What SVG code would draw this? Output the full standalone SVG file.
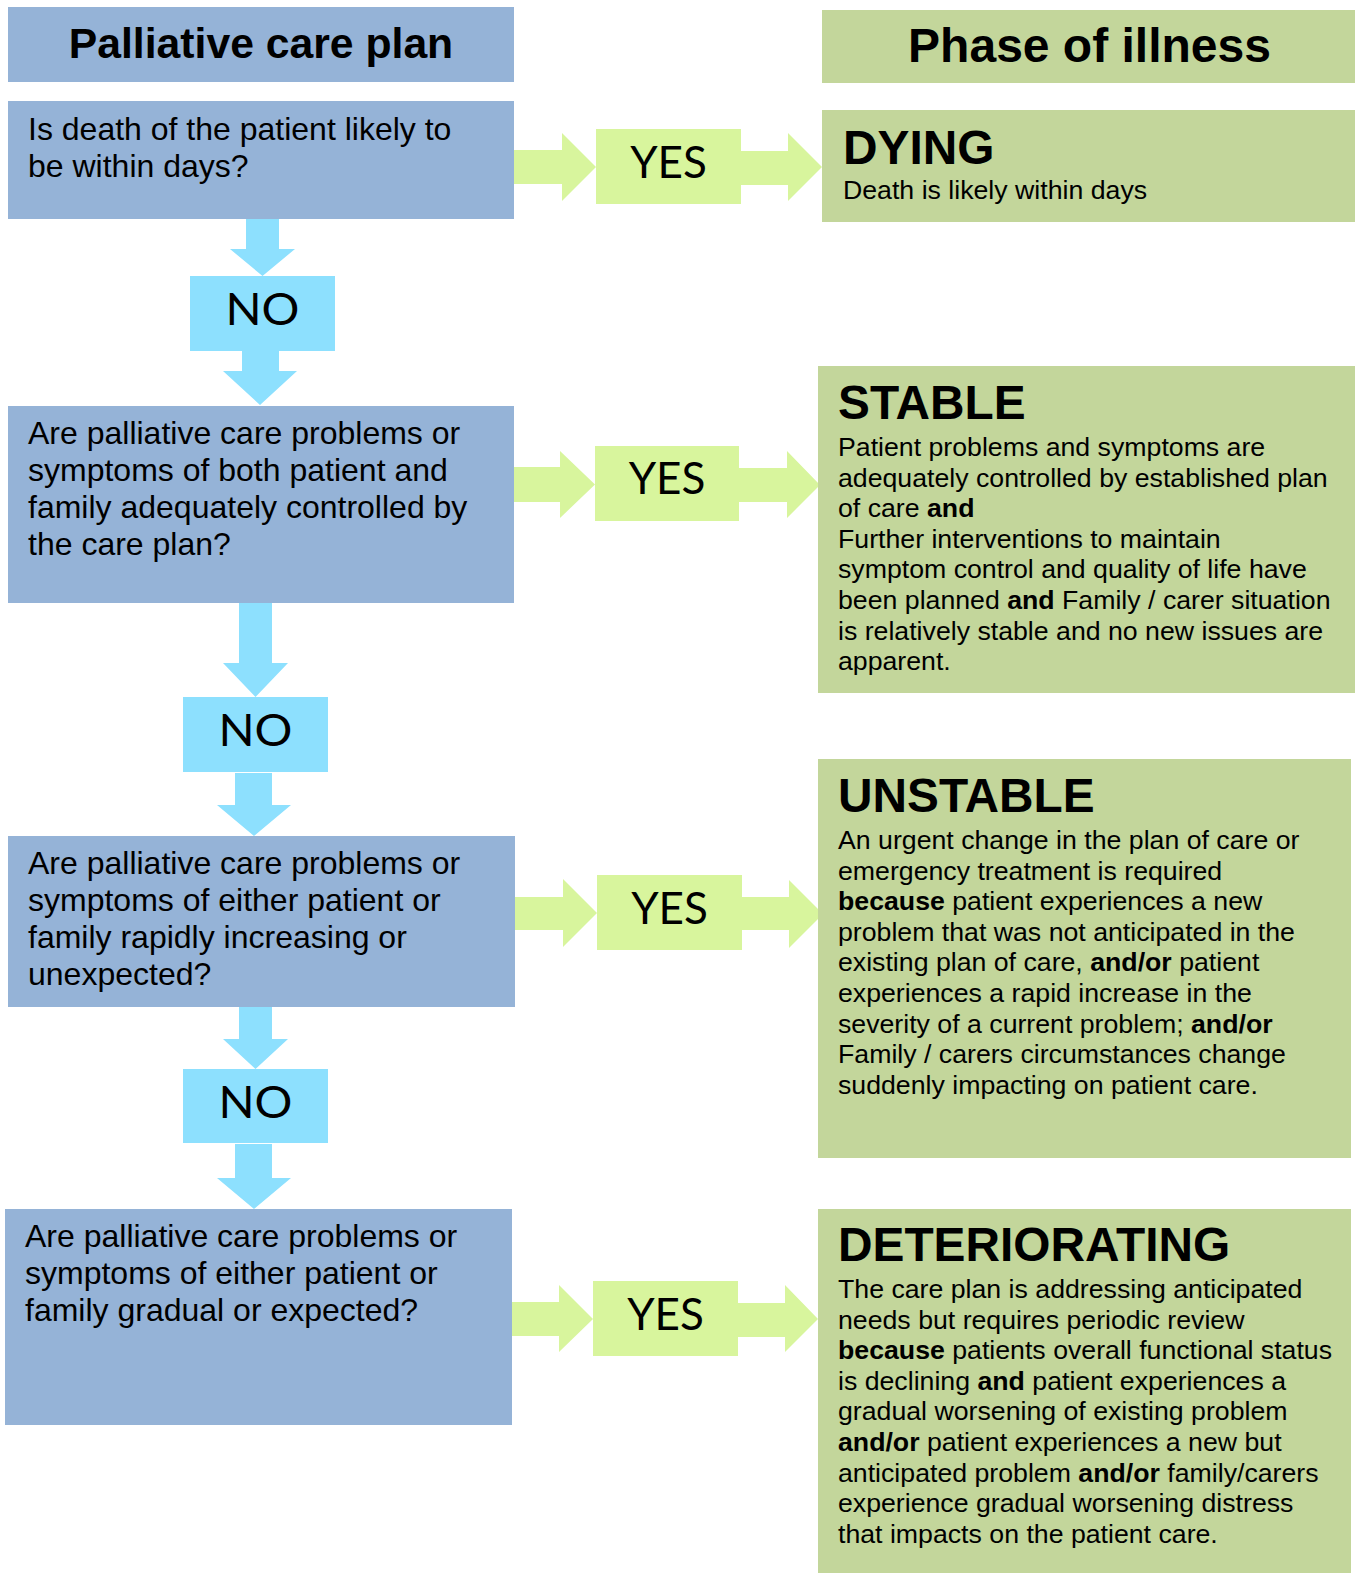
<svg xmlns="http://www.w3.org/2000/svg" width="1357" height="1573" viewBox="0 0 1357 1573">
<style>
.blue{fill:#95B3D7}
.green{fill:#C3D69B}
.no{fill:#8DE0FE}
.yes{fill:#D8F59D}
.q{font-family:"Liberation Sans",Arial,sans-serif;font-size:32px;fill:#000}
.hd{font-family:"Liberation Sans",Arial,sans-serif;font-weight:bold;fill:#000;text-anchor:middle}
.ttl{font-family:"Liberation Sans",Arial,sans-serif;font-weight:bold;font-size:47.8px;fill:#000}
.body{font-family:"Liberation Sans",Arial,sans-serif;font-size:26.7px;fill:#000}
.lbl{font-family:Lato,"Open Sans",sans-serif;font-size:44px;fill:#000;text-anchor:middle}
.b{font-weight:bold}
</style>
<rect width="1357" height="1573" fill="#fff"/>
<g id="connectors">
<polygon class="no" points="246,219 279,219 279,249 295,249 262.5,276 230,249 246,249"/>
<polygon class="no" points="242,351 279,351 279,371 297,371 260,405 223,371 242,371"/>
<polygon class="no" points="239,603 272,603 272,663 288,663 255.5,697 223,663 239,663"/>
<polygon class="no" points="235,773 272,773 272,805 291,805 254,836 217,805 235,805"/>
<polygon class="no" points="239,1007 272,1007 272,1039 288,1039 255.5,1069 223,1039 239,1039"/>
<polygon class="no" points="235,1144 272,1144 272,1178 291,1178 254,1209 217,1178 235,1178"/>
<polygon class="yes" points="514,150 562,150 562,133 596,167 562,201 562,184 514,184"/>
<polygon class="yes" points="741,151 788,151 788,133 822,167 788,201 788,185 741,185"/>
<polygon class="yes" points="514,467 560,467 560,451 595,484.5 560,518 560,502 514,502"/>
<polygon class="yes" points="739,468 787,468 787,451 820,485 787,518 787,502 739,502"/>
<polygon class="yes" points="515,897 563,897 563,879 597,913 563,947 563,930 515,930"/>
<polygon class="yes" points="742,897 789,897 789,880 823,914 789,948 789,930 742,930"/>
<polygon class="yes" points="512,1302 559,1302 559,1285 593,1319 559,1352 559,1336 512,1336"/>
<polygon class="yes" points="738,1303 785,1303 785,1285 818,1319 785,1352 785,1337 738,1337"/>
</g>
<g id="header-plan">
<rect class="blue" x="8" y="7" width="506" height="75"/>
<text class="hd" x="261" y="58" font-size="42.7">Palliative care plan</text>
</g>
<g id="header-phase">
<rect class="green" x="822" y="10" width="533" height="73"/>
<text class="hd" x="1089.5" y="62" font-size="48">Phase of illness</text>
</g>
<g id="q1">
<rect class="blue" x="8" y="101" width="506" height="118"/>
<text class="q" x="28" y="140">Is death of the patient likely to</text>
<text class="q" x="28" y="177">be within days?</text>
</g>
<g id="q2">
<rect class="blue" x="8" y="406" width="506" height="197"/>
<text class="q" x="28" y="444">Are palliative care problems or</text>
<text class="q" x="28" y="481">symptoms of both patient and</text>
<text class="q" x="28" y="518">family adequately controlled by</text>
<text class="q" x="28" y="555">the care plan?</text>
</g>
<g id="q3">
<rect class="blue" x="8" y="836" width="507" height="171"/>
<text class="q" x="28" y="874">Are palliative care problems or</text>
<text class="q" x="28" y="911">symptoms of either patient or</text>
<text class="q" x="28" y="948">family rapidly increasing or</text>
<text class="q" x="28" y="985">unexpected?</text>
</g>
<g id="q4">
<rect class="blue" x="5" y="1209" width="507" height="216"/>
<text class="q" x="25" y="1247">Are palliative care problems or</text>
<text class="q" x="25" y="1284">symptoms of either patient or</text>
<text class="q" x="25" y="1321">family gradual or expected?</text>
</g>
<g id="no1">
<rect class="no" x="190" y="276" width="145" height="75"/>
<text class="lbl" x="262.5" y="325" textLength="74" lengthAdjust="spacingAndGlyphs">NO</text>
</g>
<g id="no2">
<rect class="no" x="183" y="697" width="145" height="75"/>
<text class="lbl" x="255.5" y="746" textLength="74" lengthAdjust="spacingAndGlyphs">NO</text>
</g>
<g id="no3">
<rect class="no" x="183" y="1069" width="145" height="74"/>
<text class="lbl" x="255.5" y="1118" textLength="74" lengthAdjust="spacingAndGlyphs">NO</text>
</g>
<g id="yes1">
<rect class="yes" x="596" y="129" width="145" height="75"/>
<text class="lbl" x="668.5" y="178">YES</text>
</g>
<g id="yes2">
<rect class="yes" x="595" y="446" width="144" height="75"/>
<text class="lbl" x="667" y="494">YES</text>
</g>
<g id="yes3">
<rect class="yes" x="597" y="875" width="145" height="75"/>
<text class="lbl" x="669.5" y="924">YES</text>
</g>
<g id="yes4">
<rect class="yes" x="593" y="1281" width="145" height="75"/>
<text class="lbl" x="665.5" y="1330">YES</text>
</g>
<g id="dying">
<rect class="green" x="822" y="110" width="533" height="112"/>
<text class="ttl" x="843" y="164">DYING</text>
<text class="body" x="843" y="199" font-size="27.6">Death is likely within days</text>
</g>
<g id="stable">
<rect class="green" x="818" y="366" width="537" height="327"/>
<text class="ttl" x="838" y="419">STABLE</text>
<text class="body" x="838" y="456">Patient problems and symptoms are</text>
<text class="body" x="838" y="486.6">adequately controlled by established plan</text>
<text class="body" x="838" y="517.2">of care <tspan class="b">and</tspan></text>
<text class="body" x="838" y="547.8">Further interventions to maintain</text>
<text class="body" x="838" y="578.4">symptom control and quality of life have</text>
<text class="body" x="838" y="609">been planned <tspan class="b">and</tspan> Family / carer situation</text>
<text class="body" x="838" y="639.6">is relatively stable and no new issues are</text>
<text class="body" x="838" y="670.2">apparent.</text>
</g>
<g id="unstable">
<rect class="green" x="818" y="759" width="533" height="399"/>
<text class="ttl" x="838" y="812">UNSTABLE</text>
<text class="body" x="838" y="849">An urgent change in the plan of care or</text>
<text class="body" x="838" y="879.6">emergency treatment is required</text>
<text class="body" x="838" y="910.2"><tspan class="b">because</tspan> patient experiences a new</text>
<text class="body" x="838" y="940.8">problem that was not anticipated in the</text>
<text class="body" x="838" y="971.4">existing plan of care, <tspan class="b">and/or</tspan> patient</text>
<text class="body" x="838" y="1002">experiences a rapid increase in the</text>
<text class="body" x="838" y="1032.6">severity of a current problem; <tspan class="b">and/or</tspan></text>
<text class="body" x="838" y="1063.2">Family / carers circumstances change</text>
<text class="body" x="838" y="1093.8">suddenly impacting on patient care.</text>
</g>
<g id="deteriorating">
<rect class="green" x="818" y="1209" width="533" height="364"/>
<text class="ttl" x="838" y="1261">DETERIORATING</text>
<text class="body" x="838" y="1298">The care plan is addressing anticipated</text>
<text class="body" x="838" y="1328.6">needs but requires periodic review</text>
<text class="body" x="838" y="1359.2"><tspan class="b">because</tspan> patients overall functional status</text>
<text class="body" x="838" y="1389.8">is declining <tspan class="b">and</tspan> patient experiences a</text>
<text class="body" x="838" y="1420.4">gradual worsening of existing problem</text>
<text class="body" x="838" y="1451"><tspan class="b">and/or</tspan> patient experiences a new but</text>
<text class="body" x="838" y="1481.6">anticipated problem <tspan class="b">and/or</tspan> family/carers</text>
<text class="body" x="838" y="1512.2">experience gradual worsening distress</text>
<text class="body" x="838" y="1542.8">that impacts on the patient care.</text>
</g>
</svg>
